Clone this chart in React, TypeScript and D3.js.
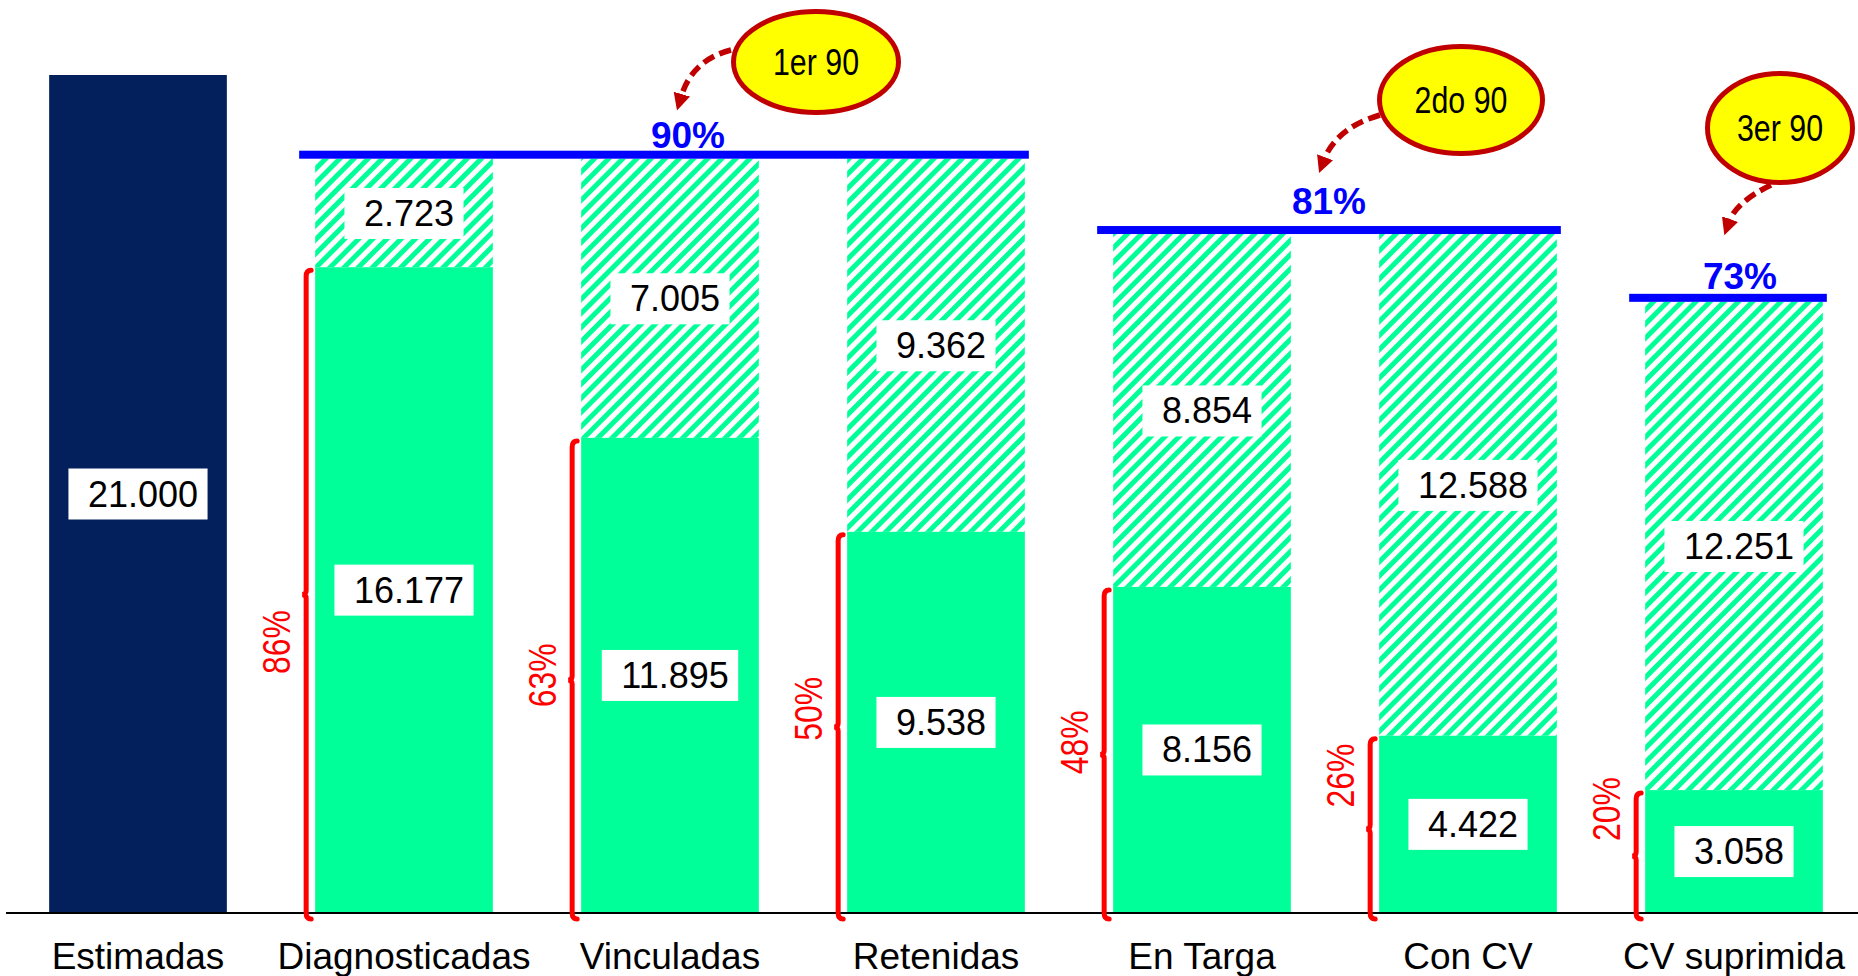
import { useEffect, useRef } from "react";
import * as d3 from "d3";

const categories = [
  "Estimadas",
  "Diagnosticadas",
  "Vinculadas",
  "Retenidas",
  "En Targa",
  "Con CV",
  "CV suprimida",
];
const reached = [21000, 16177, 11895, 9538, 8156, 4422, 3058];
const gap = [0, 2723, 7005, 9362, 8854, 12588, 12251];
const coverage = [null, "86%", "63%", "50%", "48%", "26%", "20%"];

const targetLabels = ["90%", "81%", "73%"];
const targetValues = [18900, 17010, 15309];
const targetFrom = ["Diagnosticadas", "En Targa", "CV suprimida"];
const targetTo = ["Retenidas", "Con CV", "CV suprimida"];
const callouts = ["1er 90", "2do 90", "3er 90"];

// callout bubbles + arrows, in page pixels
const CALLOUT_LAYOUT = [
  { cx: 816, cy: 62, rx: 85, ry: 53, path: "M731,50 Q692,60 681,97" },
  { cx: 1461, cy: 100, rx: 84, ry: 56, path: "M1380,115 Q1336,128 1324,160" },
  { cx: 1780, cy: 128, rx: 75, ry: 57, path: "M1771,185 Q1736,202 1729,222" },
];
// nudges for the target % labels
const TARGET_LABEL_NUDGE = [
  { dx: 24, dy: 2 },
  { dx: 0, dy: -7 },
  { dx: 12, dy: 0 },
];

const W = 1858;
const H = 976;
const FONT = "'Liberation Sans', Arial, sans-serif";
const GREEN = "#00FF99";
const NAVY = "#03205C";
const DARKRED = "#C00000";

export default function App() {
  const svgRef = useRef<SVGSVGElement>(null);

  useEffect(() => {
    document.body.style.margin = "0";
    document.body.style.overflow = "hidden";
    if (!svgRef.current) return;
    const svg = d3.select(svgRef.current);
    svg.selectAll("*").remove();

    const x = d3
      .scaleBand<string>()
      .domain(categories)
      .range([5, 1867])
      .paddingInner(0.332)
      .paddingOuter(0.166);
    const y = d3.scaleLinear().domain([0, 21000]).range([912, 75]);
    const bw = x.bandwidth();

    const defs = svg.append("defs");
    const pat = defs
      .append("pattern")
      .attr("id", "hatch")
      .attr("patternUnits", "userSpaceOnUse")
      .attr("width", 10)
      .attr("height", 10)
      .attr("patternTransform", "rotate(45)");
    pat.append("rect").attr("width", 10).attr("height", 10).attr("fill", "#fff");
    pat.append("rect").attr("width", 5).attr("height", 10).attr("fill", GREEN);

    defs
      .append("marker")
      .attr("id", "arrowhead")
      .attr("markerUnits", "userSpaceOnUse")
      .attr("viewBox", "0 -9 18 18")
      .attr("refX", 3)
      .attr("refY", 0)
      .attr("markerWidth", 18)
      .attr("markerHeight", 18)
      .attr("orient", "auto")
      .append("path")
      .attr("d", "M0,-8.5L17,0L0,8.5Z")
      .attr("fill", DARKRED);

    const rows = categories.map((c, i) => ({
      cat: c,
      reached: reached[i],
      gap: gap[i],
      cov: coverage[i],
      i,
    }));

    // hatched gap segments
    svg
      .append("g")
      .selectAll("rect")
      .data(rows.filter((d) => d.gap > 0))
      .join("rect")
      .attr("x", (d) => x(d.cat)!)
      .attr("y", (d) => y(d.reached + d.gap))
      .attr("width", bw)
      .attr("height", (d) => y(d.reached) - y(d.reached + d.gap))
      .attr("fill", "url(#hatch)");

    // solid segments
    svg
      .append("g")
      .selectAll("rect")
      .data(rows)
      .join("rect")
      .attr("x", (d) => x(d.cat)!)
      .attr("y", (d) => y(d.reached))
      .attr("width", bw)
      .attr("height", (d) => y(0) - y(d.reached))
      .attr("fill", (d) => (d.i === 0 ? NAVY : GREEN));

    // baseline
    svg
      .append("line")
      .attr("x1", 6)
      .attr("x2", W)
      .attr("y1", y(0) + 1)
      .attr("y2", y(0) + 1)
      .attr("stroke", "#000")
      .attr("stroke-width", 2);

    // value labels in white boxes
    const fmt = (v: number) => d3.format(",")(v).replace(/,/g, ".");
    const labels: { cx: number; cy: number; text: string }[] = [];
    rows.forEach((d) => {
      const cx = x(d.cat)! + bw / 2;
      labels.push({ cx, cy: (y(0) + y(d.reached)) / 2, text: fmt(d.reached) });
      if (d.gap > 0)
        labels.push({
          cx,
          cy: (y(d.reached) + y(d.reached + d.gap)) / 2,
          text: fmt(d.gap),
        });
    });
    const lg = svg
      .append("g")
      .selectAll("g")
      .data(labels)
      .join("g")
      .attr("transform", (d) => `translate(${d.cx},${d.cy})`);
    lg.each(function (d) {
      const g = d3.select(this);
      const rect = g.append("rect").attr("fill", "#fff");
      const t = g
        .append("text")
        .attr("x", 5)
        .attr("y", 13)
        .attr("text-anchor", "middle")
        .style("font-family", FONT)
        .style("font-size", "36px")
        .style("fill", "#000")
        .text(d.text);
      const tw = (t.node() as SVGTextElement).getComputedTextLength();
      const boxW = tw + 29;
      rect.attr("x", -boxW / 2).attr("y", -25).attr("width", boxW).attr("height", 51);
    });

    // red brackets + coverage labels
    const covY = d3.scaleLinear().domain([1, 6]).range([642, 809]);
    const br = svg
      .append("g")
      .selectAll("g")
      .data(rows.filter((d) => d.cov))
      .join("g");
    br.append("path")
      .attr("d", (d) => {
        const bx = x(d.cat)! - 9;
        const top = y(d.reached) + 3;
        const bot = y(0) + 7;
        const mid = (top + bot) / 2;
        return `M${bx + 5},${top} Q${bx},${top} ${bx},${top + 6} L${bx},${mid - 4} Q${bx},${mid} ${bx - 4},${mid} Q${bx},${mid} ${bx},${mid + 4} L${bx},${bot - 6} Q${bx},${bot} ${bx + 5},${bot}`;
      })
      .attr("fill", "none")
      .attr("stroke", "#FF0000")
      .attr("stroke-width", 5)
      .attr("stroke-linecap", "round");
    br.append("text")
      .attr(
        "transform",
        (d) => `translate(${x(d.cat)! - 25},${covY(d.i)}) rotate(-90) scale(0.84,1)`
      )
      .attr("text-anchor", "middle")
      .style("font-family", FONT)
      .style("font-size", "38px")
      .style("fill", "#FF0000")
      .text((d) => d.cov as string);

    // target lines
    const tg = svg
      .append("g")
      .selectAll("g")
      .data(
        targetLabels.map((l, i) => ({
          l,
          v: targetValues[i],
          a: targetFrom[i],
          b: targetTo[i],
          n: TARGET_LABEL_NUDGE[i],
        }))
      )
      .join("g");
    tg.append("rect")
      .attr("x", (d) => x(d.a)! - 16)
      .attr("y", (d) => y(d.v) - 8)
      .attr("width", (d) => x(d.b)! + bw + 4 - (x(d.a)! - 16))
      .attr("height", 8)
      .attr("fill", "#0000FF");
    tg.append("text")
      .attr("x", (d) => (x(d.a)! - 16 + x(d.b)! + bw + 4) / 2 + d.n.dx)
      .attr("y", (d) => y(d.v) - 13 + d.n.dy)
      .attr("text-anchor", "middle")
      .style("font-family", FONT)
      .style("font-size", "37px")
      .style("font-weight", "bold")
      .style("fill", "#0000FF")
      .text((d) => d.l);

    // callouts
    const cg = svg
      .append("g")
      .selectAll("g")
      .data(callouts.map((c, i) => ({ c, ...CALLOUT_LAYOUT[i] })))
      .join("g");
    cg.append("path")
      .attr("d", (d) => d.path)
      .attr("fill", "none")
      .attr("stroke", DARKRED)
      .attr("stroke-width", 5.5)
      .attr("stroke-dasharray", "12,6")
      .attr("marker-end", "url(#arrowhead)");
    cg.append("ellipse")
      .attr("cx", (d) => d.cx)
      .attr("cy", (d) => d.cy)
      .attr("rx", (d) => d.rx - 2.5)
      .attr("ry", (d) => d.ry - 2.5)
      .attr("fill", "#FFFF00")
      .attr("stroke", DARKRED)
      .attr("stroke-width", 5);
    cg.append("text")
      .attr("transform", (d) => `translate(${d.cx},${d.cy + 13}) scale(0.82,1)`)
      .attr("text-anchor", "middle")
      .style("font-family", FONT)
      .style("font-size", "37px")
      .style("fill", "#000")
      .text((d) => d.c);

    // category axis labels
    svg
      .append("g")
      .selectAll("text")
      .data(categories)
      .join("text")
      .attr("x", (d) => x(d)! + bw / 2)
      .attr("y", 969)
      .attr("text-anchor", "middle")
      .style("font-family", FONT)
      .style("font-size", "37px")
      .style("fill", "#000")
      .text((d) => d);
  }, []);

  return (
    <svg
      ref={svgRef}
      width={W}
      height={H}
      style={{ position: "absolute", left: 0, top: 0, display: "block", background: "#fff" }}
    />
  );
}
